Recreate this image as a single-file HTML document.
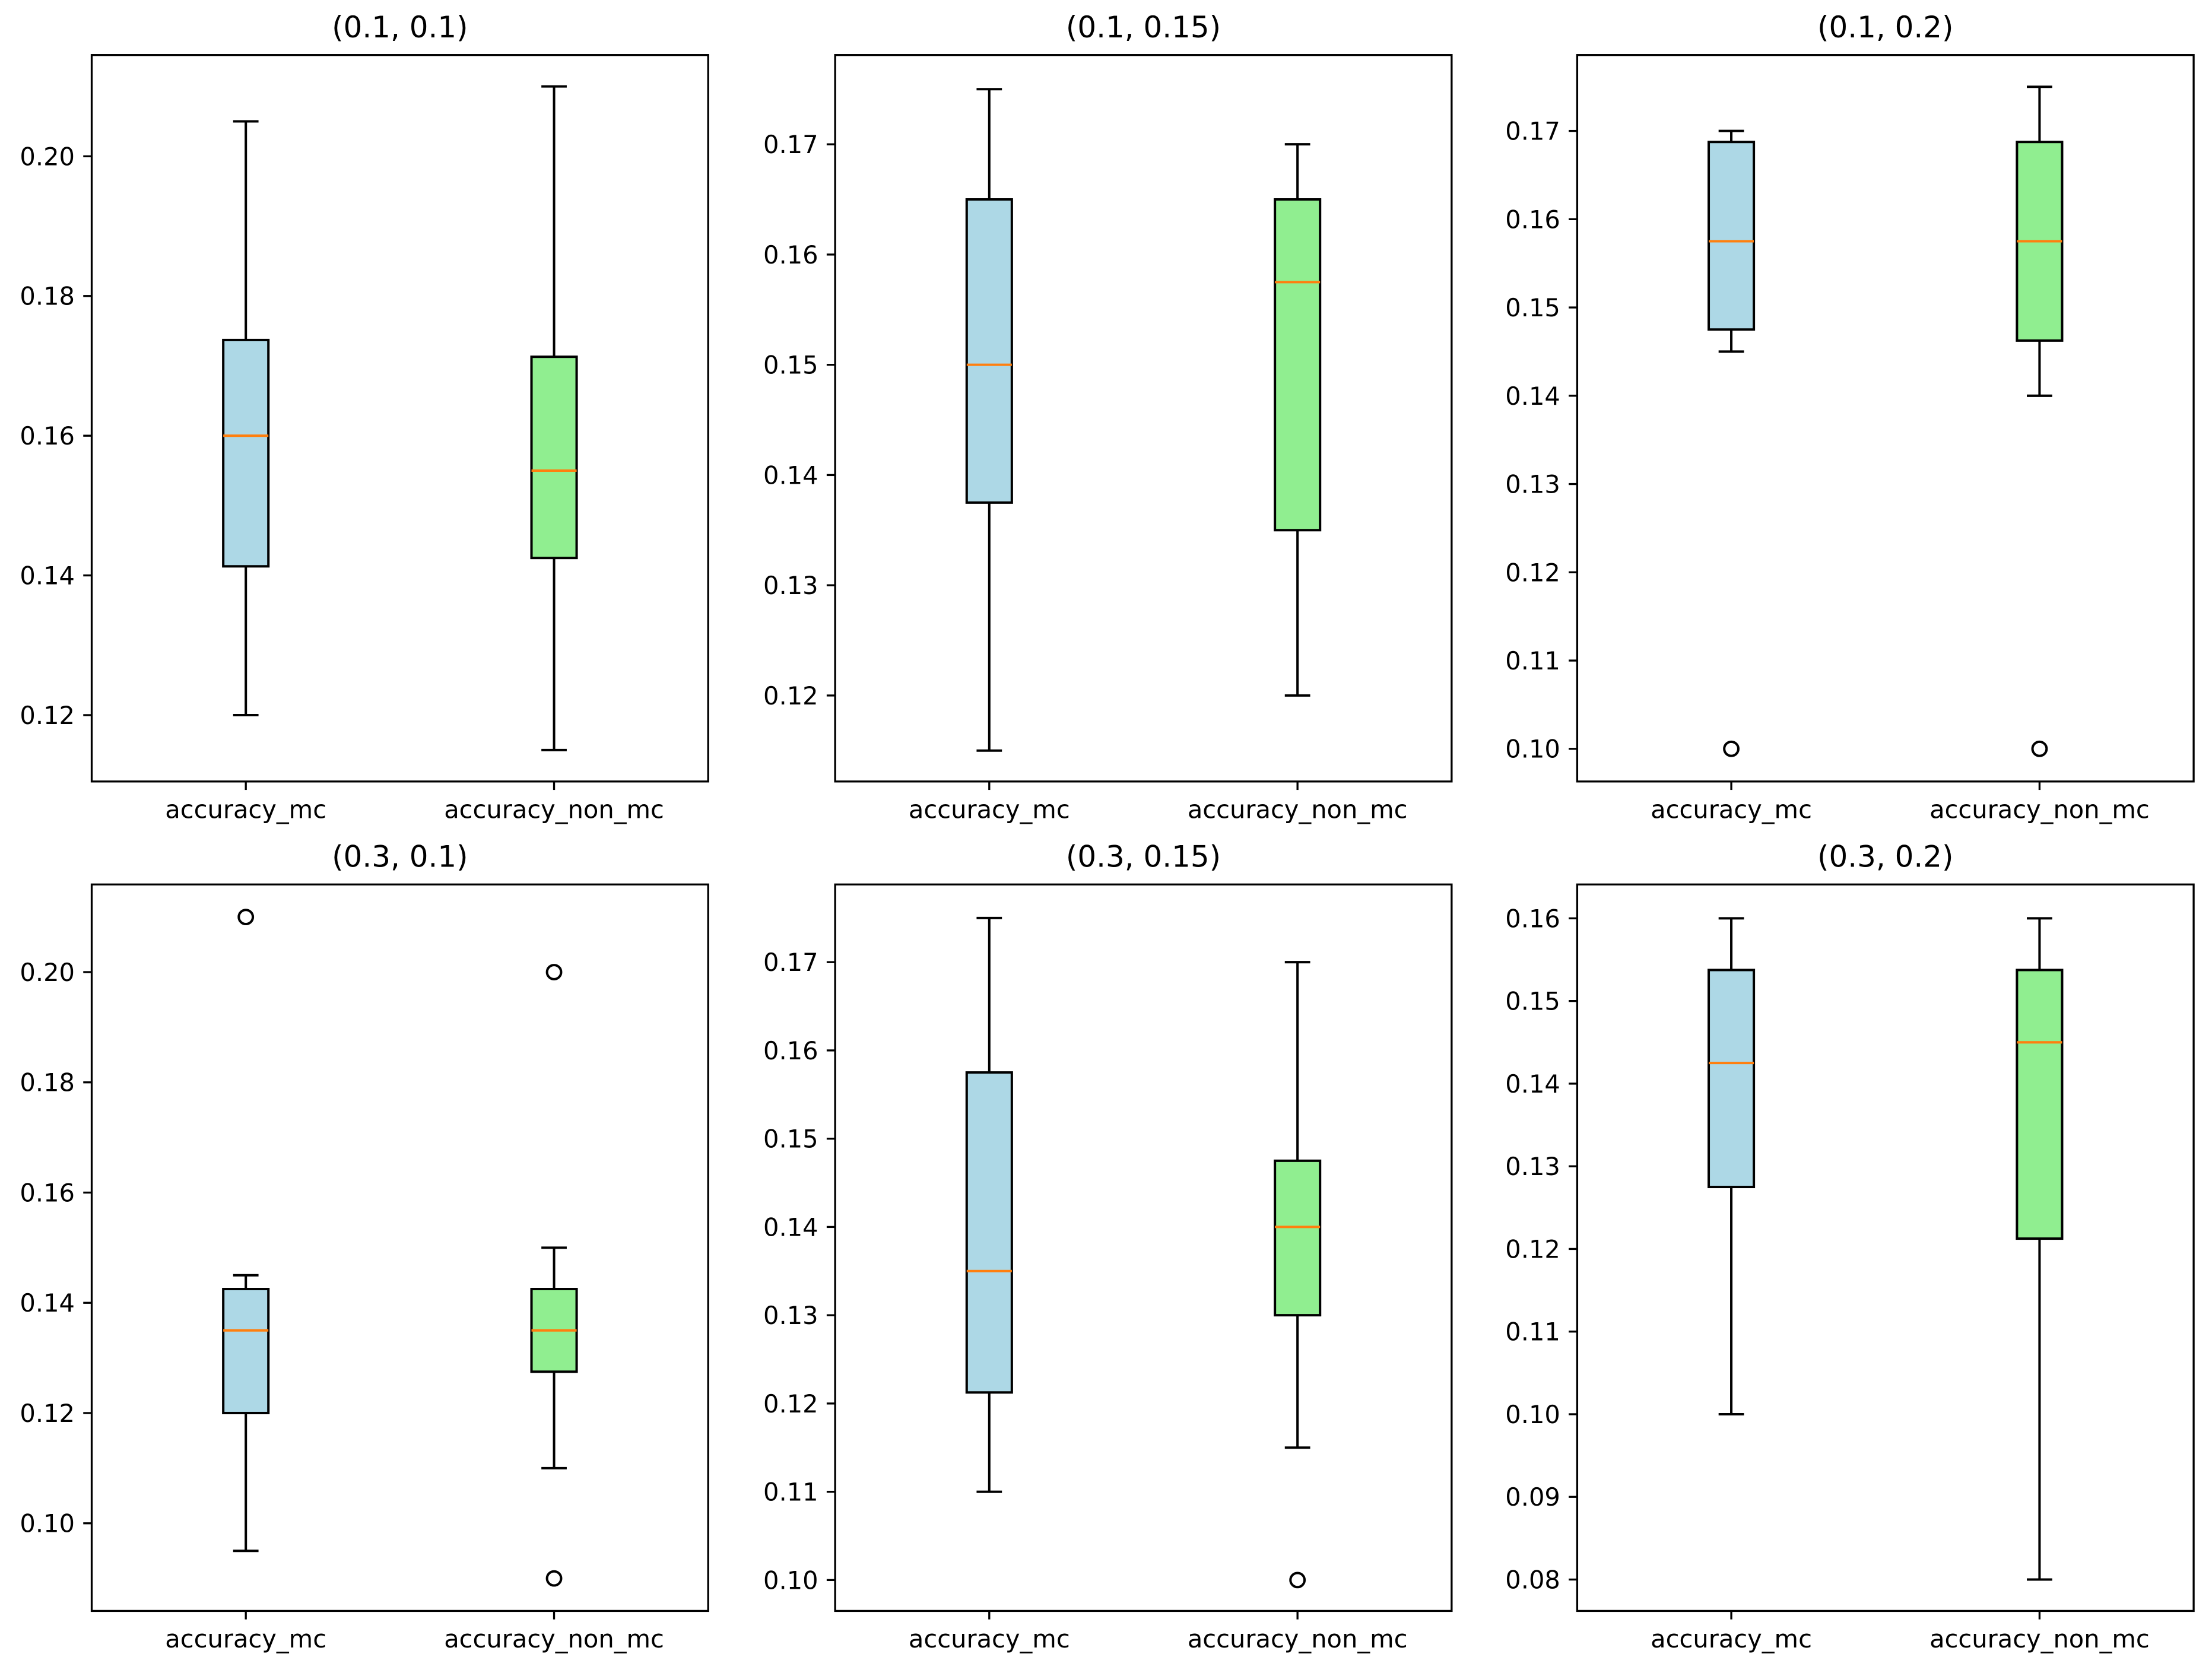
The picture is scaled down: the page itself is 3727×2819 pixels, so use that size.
<!DOCTYPE html>
<html><head><meta charset="utf-8"><style>html,body{margin:0;padding:0;background:#fff}svg{display:block}</style></head>
<body>
<svg id="chart" xmlns="http://www.w3.org/2000/svg" width="3727" height="2819" viewBox="0 0 1568 1186" font-family="DejaVu Sans, Liberation Sans, sans-serif"></svg>
<script>
const panelTitles = ["(0.1, 0.1)","(0.1, 0.15)","(0.1, 0.2)","(0.3, 0.1)","(0.3, 0.15)","(0.3, 0.2)"];
const categories = ["accuracy_mc","accuracy_non_mc"];
const yLimits = [[0.1105,0.2145],[0.1122,0.1781],[0.0963,0.1786],[0.0841,0.2159],[0.0965,0.1788],[0.0762,0.1641]];
const yTicks = [
 [0.12,0.14,0.16,0.18,0.20],
 [0.12,0.13,0.14,0.15,0.16,0.17],
 [0.10,0.11,0.12,0.13,0.14,0.15,0.16,0.17],
 [0.10,0.12,0.14,0.16,0.18,0.20],
 [0.10,0.11,0.12,0.13,0.14,0.15,0.16,0.17],
 [0.08,0.09,0.10,0.11,0.12,0.13,0.14,0.15,0.16]];
const tickDecimals = [2,2,2,2,2,2];
// [whiskerLow, q1, median, q3, whiskerHigh] per panel, per category
const mcStats = [
 [0.12,0.1413,0.16,0.1737,0.205],
 [0.115,0.1375,0.15,0.165,0.175],
 [0.145,0.1475,0.1575,0.16875,0.17],
 [0.095,0.12,0.135,0.1425,0.145],
 [0.11,0.12125,0.135,0.1575,0.175],
 [0.10,0.1275,0.1425,0.15375,0.16]];
const nonMcStats = [
 [0.115,0.1425,0.155,0.1713,0.21],
 [0.12,0.135,0.1575,0.165,0.17],
 [0.14,0.14625,0.1575,0.16875,0.175],
 [0.11,0.1275,0.135,0.1425,0.15],
 [0.115,0.13,0.14,0.1475,0.17],
 [0.08,0.12125,0.145,0.15375,0.16]];
const mcOutliers = [[],[],[0.10],[0.21],[],[]];
const nonMcOutliers = [[],[],[0.10],[0.20,0.09],[0.10],[]];
const boxColors = ["#add8e6","#90ee90"];

const svg = document.getElementById('chart');
const NS = "http://www.w3.org/2000/svg";
function mk(tag, attrs, parent){const e=document.createElementNS(NS,tag);for(const k in attrs)e.setAttribute(k,attrs[k]);(parent||svg).appendChild(e);return e;}
const colX = [65,592,1118], rowY = [39,627], W = 437, H = 515;
for(let p=0;p<6;p++){
  const x0 = colX[p%3], y0 = rowY[Math.floor(p/3)];
  const [lo,hi] = yLimits[p];
  const ys = v => y0 + H - (v-lo)/(hi-lo)*H;
  const xs = i => x0 + W*(0.25+0.5*i);
  const g = mk('g',{});
  
  
  const t = mk('text',{x:x0+W/2,y:y0-12.5,'text-anchor':'middle','font-size':'21',fill:'#000'},g);
  t.textContent = panelTitles[p];
  
  
  yTicks[p].forEach(v=>{
    const y=ys(v);
    mk('line',{x1:x0-6,x2:x0,y1:y,y2:y,stroke:'#000','stroke-width':1.4},g);
    const tl=mk('text',{x:x0-12,y:y+6.3,'text-anchor':'end','font-size':'17.5',fill:'#000'},g);
    tl.textContent=v.toFixed(tickDecimals[p]);
    
    
  });
  const stats=[mcStats[p],nonMcStats[p]], outs=[mcOutliers[p],nonMcOutliers[p]];
  categories.forEach((c,i)=>{
    const cx=xs(i), s=stats[i];
    mk('line',{x1:cx,x2:cx,y1:y0+H,y2:y0+H+6,stroke:'#000','stroke-width':1.4},g);
    const xl=mk('text',{x:cx,y:y0+H+26,'text-anchor':'middle','font-size':'17.5',fill:'#000'},g);
    xl.textContent=c;
    
    
    const bg=mk('g',{},g);
    
    
    mk('line',{x1:cx,x2:cx,y1:ys(s[0]),y2:ys(s[1]),stroke:'#000','stroke-width':1.7},bg);
    mk('line',{x1:cx,x2:cx,y1:ys(s[3]),y2:ys(s[4]),stroke:'#000','stroke-width':1.7},bg);
    mk('line',{x1:cx-9,x2:cx+9,y1:ys(s[0]),y2:ys(s[0]),stroke:'#000','stroke-width':1.7},bg);
    mk('line',{x1:cx-9,x2:cx+9,y1:ys(s[4]),y2:ys(s[4]),stroke:'#000','stroke-width':1.7},bg);
    mk('rect',{x:cx-16,y:ys(s[3]),width:32,height:ys(s[1])-ys(s[3]),fill:boxColors[i],stroke:'#000','stroke-width':1.7},bg);
    mk('line',{x1:cx-16,x2:cx+16,y1:ys(s[2]),y2:ys(s[2]),stroke:'#ff7f0e','stroke-width':1.7},bg);
    outs[i].forEach(v=>{
      const o=mk('circle',{cx:cx,cy:ys(v),r:5,fill:'none',stroke:'#000','stroke-width':1.7},bg);
      
      
    });
  });
  mk('rect',{x:x0,y:y0,width:W,height:H,fill:'none',stroke:'#000','stroke-width':1.4},g);
}
</script>
</body></html>
